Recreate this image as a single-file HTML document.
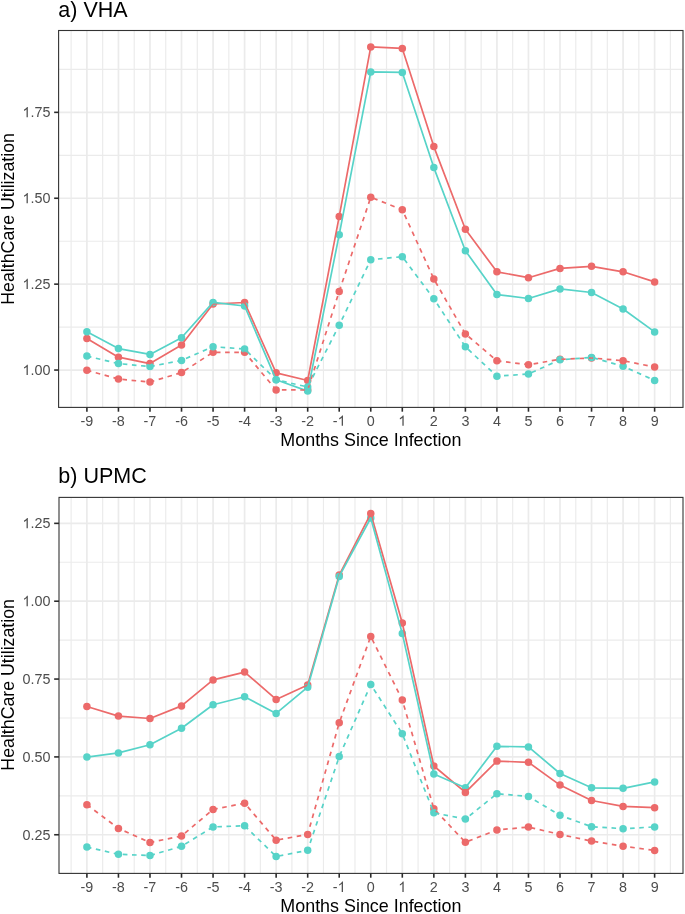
<!DOCTYPE html>
<html><head><meta charset="utf-8"><style>
html,body{margin:0;padding:0;background:#fff;}
body{width:685px;height:914px;overflow:hidden;}
svg{display:block;will-change:transform;}
text{font-family:"Liberation Sans",sans-serif;}
.ax{font-size:14.35px;fill:#4D4D4D;}
.at{font-size:17.9px;fill:#000;}
.tt{font-size:21.5px;fill:#000;}
</style></head><body>
<svg width="685" height="914" viewBox="0 0 685 914">
<rect width="685" height="914" fill="#fff"/>
<clipPath id="ca"><rect x="58.6" y="30.5" width="624.40" height="376.90"/></clipPath>
<g clip-path="url(#ca)">
<line x1="58.6" x2="683.0" y1="327.10" y2="327.10" stroke="#EBEBEB" stroke-width="1.15"/>
<line x1="58.6" x2="683.0" y1="241.20" y2="241.20" stroke="#EBEBEB" stroke-width="1.15"/>
<line x1="58.6" x2="683.0" y1="155.30" y2="155.30" stroke="#EBEBEB" stroke-width="1.15"/>
<line x1="58.6" x2="683.0" y1="69.40" y2="69.40" stroke="#EBEBEB" stroke-width="1.15"/>
<line x1="71.13" x2="71.13" y1="30.5" y2="407.4" stroke="#EBEBEB" stroke-width="1.15"/>
<line x1="102.67" x2="102.67" y1="30.5" y2="407.4" stroke="#EBEBEB" stroke-width="1.15"/>
<line x1="134.21" x2="134.21" y1="30.5" y2="407.4" stroke="#EBEBEB" stroke-width="1.15"/>
<line x1="165.75" x2="165.75" y1="30.5" y2="407.4" stroke="#EBEBEB" stroke-width="1.15"/>
<line x1="197.29" x2="197.29" y1="30.5" y2="407.4" stroke="#EBEBEB" stroke-width="1.15"/>
<line x1="228.83" x2="228.83" y1="30.5" y2="407.4" stroke="#EBEBEB" stroke-width="1.15"/>
<line x1="260.37" x2="260.37" y1="30.5" y2="407.4" stroke="#EBEBEB" stroke-width="1.15"/>
<line x1="291.91" x2="291.91" y1="30.5" y2="407.4" stroke="#EBEBEB" stroke-width="1.15"/>
<line x1="323.45" x2="323.45" y1="30.5" y2="407.4" stroke="#EBEBEB" stroke-width="1.15"/>
<line x1="354.99" x2="354.99" y1="30.5" y2="407.4" stroke="#EBEBEB" stroke-width="1.15"/>
<line x1="386.53" x2="386.53" y1="30.5" y2="407.4" stroke="#EBEBEB" stroke-width="1.15"/>
<line x1="418.07" x2="418.07" y1="30.5" y2="407.4" stroke="#EBEBEB" stroke-width="1.15"/>
<line x1="449.61" x2="449.61" y1="30.5" y2="407.4" stroke="#EBEBEB" stroke-width="1.15"/>
<line x1="481.15" x2="481.15" y1="30.5" y2="407.4" stroke="#EBEBEB" stroke-width="1.15"/>
<line x1="512.69" x2="512.69" y1="30.5" y2="407.4" stroke="#EBEBEB" stroke-width="1.15"/>
<line x1="544.23" x2="544.23" y1="30.5" y2="407.4" stroke="#EBEBEB" stroke-width="1.15"/>
<line x1="575.77" x2="575.77" y1="30.5" y2="407.4" stroke="#EBEBEB" stroke-width="1.15"/>
<line x1="607.31" x2="607.31" y1="30.5" y2="407.4" stroke="#EBEBEB" stroke-width="1.15"/>
<line x1="638.85" x2="638.85" y1="30.5" y2="407.4" stroke="#EBEBEB" stroke-width="1.15"/>
<line x1="670.39" x2="670.39" y1="30.5" y2="407.4" stroke="#EBEBEB" stroke-width="1.15"/>
<line x1="58.6" x2="683.0" y1="370.05" y2="370.05" stroke="#EBEBEB" stroke-width="1.7"/>
<line x1="58.6" x2="683.0" y1="284.15" y2="284.15" stroke="#EBEBEB" stroke-width="1.7"/>
<line x1="58.6" x2="683.0" y1="198.25" y2="198.25" stroke="#EBEBEB" stroke-width="1.7"/>
<line x1="58.6" x2="683.0" y1="112.35" y2="112.35" stroke="#EBEBEB" stroke-width="1.7"/>
<line x1="86.90" x2="86.90" y1="30.5" y2="407.4" stroke="#EBEBEB" stroke-width="1.7"/>
<line x1="118.44" x2="118.44" y1="30.5" y2="407.4" stroke="#EBEBEB" stroke-width="1.7"/>
<line x1="149.98" x2="149.98" y1="30.5" y2="407.4" stroke="#EBEBEB" stroke-width="1.7"/>
<line x1="181.52" x2="181.52" y1="30.5" y2="407.4" stroke="#EBEBEB" stroke-width="1.7"/>
<line x1="213.06" x2="213.06" y1="30.5" y2="407.4" stroke="#EBEBEB" stroke-width="1.7"/>
<line x1="244.60" x2="244.60" y1="30.5" y2="407.4" stroke="#EBEBEB" stroke-width="1.7"/>
<line x1="276.14" x2="276.14" y1="30.5" y2="407.4" stroke="#EBEBEB" stroke-width="1.7"/>
<line x1="307.68" x2="307.68" y1="30.5" y2="407.4" stroke="#EBEBEB" stroke-width="1.7"/>
<line x1="339.22" x2="339.22" y1="30.5" y2="407.4" stroke="#EBEBEB" stroke-width="1.7"/>
<line x1="370.76" x2="370.76" y1="30.5" y2="407.4" stroke="#EBEBEB" stroke-width="1.7"/>
<line x1="402.30" x2="402.30" y1="30.5" y2="407.4" stroke="#EBEBEB" stroke-width="1.7"/>
<line x1="433.84" x2="433.84" y1="30.5" y2="407.4" stroke="#EBEBEB" stroke-width="1.7"/>
<line x1="465.38" x2="465.38" y1="30.5" y2="407.4" stroke="#EBEBEB" stroke-width="1.7"/>
<line x1="496.92" x2="496.92" y1="30.5" y2="407.4" stroke="#EBEBEB" stroke-width="1.7"/>
<line x1="528.46" x2="528.46" y1="30.5" y2="407.4" stroke="#EBEBEB" stroke-width="1.7"/>
<line x1="560.00" x2="560.00" y1="30.5" y2="407.4" stroke="#EBEBEB" stroke-width="1.7"/>
<line x1="591.54" x2="591.54" y1="30.5" y2="407.4" stroke="#EBEBEB" stroke-width="1.7"/>
<line x1="623.08" x2="623.08" y1="30.5" y2="407.4" stroke="#EBEBEB" stroke-width="1.7"/>
<line x1="654.62" x2="654.62" y1="30.5" y2="407.4" stroke="#EBEBEB" stroke-width="1.7"/>
<circle cx="86.90" cy="338.40" r="3.75" fill="#EC6A6A"/>
<circle cx="118.44" cy="357.20" r="3.75" fill="#EC6A6A"/>
<circle cx="149.98" cy="363.60" r="3.75" fill="#EC6A6A"/>
<circle cx="181.52" cy="345.00" r="3.75" fill="#EC6A6A"/>
<circle cx="213.06" cy="304.00" r="3.75" fill="#EC6A6A"/>
<circle cx="244.60" cy="302.50" r="3.75" fill="#EC6A6A"/>
<circle cx="276.14" cy="372.80" r="3.75" fill="#EC6A6A"/>
<circle cx="307.68" cy="380.50" r="3.75" fill="#EC6A6A"/>
<circle cx="339.22" cy="216.40" r="3.75" fill="#EC6A6A"/>
<circle cx="370.76" cy="46.90" r="3.75" fill="#EC6A6A"/>
<circle cx="402.30" cy="48.40" r="3.75" fill="#EC6A6A"/>
<circle cx="433.84" cy="146.60" r="3.75" fill="#EC6A6A"/>
<circle cx="465.38" cy="229.30" r="3.75" fill="#EC6A6A"/>
<circle cx="496.92" cy="271.80" r="3.75" fill="#EC6A6A"/>
<circle cx="528.46" cy="277.70" r="3.75" fill="#EC6A6A"/>
<circle cx="560.00" cy="268.40" r="3.75" fill="#EC6A6A"/>
<circle cx="591.54" cy="266.30" r="3.75" fill="#EC6A6A"/>
<circle cx="623.08" cy="271.80" r="3.75" fill="#EC6A6A"/>
<circle cx="654.62" cy="281.90" r="3.75" fill="#EC6A6A"/>
<circle cx="86.90" cy="370.20" r="3.75" fill="#EC6A6A"/>
<circle cx="118.44" cy="379.10" r="3.75" fill="#EC6A6A"/>
<circle cx="149.98" cy="382.00" r="3.75" fill="#EC6A6A"/>
<circle cx="181.52" cy="372.60" r="3.75" fill="#EC6A6A"/>
<circle cx="213.06" cy="352.30" r="3.75" fill="#EC6A6A"/>
<circle cx="244.60" cy="352.30" r="3.75" fill="#EC6A6A"/>
<circle cx="276.14" cy="389.90" r="3.75" fill="#EC6A6A"/>
<circle cx="307.68" cy="390.00" r="3.75" fill="#EC6A6A"/>
<circle cx="339.22" cy="291.40" r="3.75" fill="#EC6A6A"/>
<circle cx="370.76" cy="197.20" r="3.75" fill="#EC6A6A"/>
<circle cx="402.30" cy="209.80" r="3.75" fill="#EC6A6A"/>
<circle cx="433.84" cy="279.00" r="3.75" fill="#EC6A6A"/>
<circle cx="465.38" cy="333.90" r="3.75" fill="#EC6A6A"/>
<circle cx="496.92" cy="360.80" r="3.75" fill="#EC6A6A"/>
<circle cx="528.46" cy="364.70" r="3.75" fill="#EC6A6A"/>
<circle cx="560.00" cy="359.30" r="3.75" fill="#EC6A6A"/>
<circle cx="591.54" cy="358.00" r="3.75" fill="#EC6A6A"/>
<circle cx="654.62" cy="367.00" r="3.75" fill="#EC6A6A"/>
<circle cx="86.90" cy="331.80" r="3.75" fill="#57D3C8"/>
<circle cx="118.44" cy="348.60" r="3.75" fill="#57D3C8"/>
<circle cx="149.98" cy="354.40" r="3.75" fill="#57D3C8"/>
<circle cx="181.52" cy="337.80" r="3.75" fill="#57D3C8"/>
<circle cx="213.06" cy="302.40" r="3.75" fill="#57D3C8"/>
<circle cx="244.60" cy="306.00" r="3.75" fill="#57D3C8"/>
<circle cx="276.14" cy="379.80" r="3.75" fill="#57D3C8"/>
<circle cx="307.68" cy="391.10" r="3.75" fill="#57D3C8"/>
<circle cx="339.22" cy="234.70" r="3.75" fill="#57D3C8"/>
<circle cx="370.76" cy="71.90" r="3.75" fill="#57D3C8"/>
<circle cx="402.30" cy="72.40" r="3.75" fill="#57D3C8"/>
<circle cx="433.84" cy="167.60" r="3.75" fill="#57D3C8"/>
<circle cx="465.38" cy="250.70" r="3.75" fill="#57D3C8"/>
<circle cx="496.92" cy="294.60" r="3.75" fill="#57D3C8"/>
<circle cx="528.46" cy="298.50" r="3.75" fill="#57D3C8"/>
<circle cx="560.00" cy="288.90" r="3.75" fill="#57D3C8"/>
<circle cx="591.54" cy="292.50" r="3.75" fill="#57D3C8"/>
<circle cx="623.08" cy="309.00" r="3.75" fill="#57D3C8"/>
<circle cx="654.62" cy="331.90" r="3.75" fill="#57D3C8"/>
<circle cx="86.90" cy="356.10" r="3.75" fill="#57D3C8"/>
<circle cx="118.44" cy="363.60" r="3.75" fill="#57D3C8"/>
<circle cx="149.98" cy="366.60" r="3.75" fill="#57D3C8"/>
<circle cx="181.52" cy="360.40" r="3.75" fill="#57D3C8"/>
<circle cx="213.06" cy="346.70" r="3.75" fill="#57D3C8"/>
<circle cx="244.60" cy="349.00" r="3.75" fill="#57D3C8"/>
<circle cx="276.14" cy="379.80" r="3.75" fill="#57D3C8"/>
<circle cx="307.68" cy="387.00" r="3.75" fill="#57D3C8"/>
<circle cx="339.22" cy="325.20" r="3.75" fill="#57D3C8"/>
<circle cx="370.76" cy="259.70" r="3.75" fill="#57D3C8"/>
<circle cx="402.30" cy="256.70" r="3.75" fill="#57D3C8"/>
<circle cx="433.84" cy="298.80" r="3.75" fill="#57D3C8"/>
<circle cx="465.38" cy="346.80" r="3.75" fill="#57D3C8"/>
<circle cx="496.92" cy="376.20" r="3.75" fill="#57D3C8"/>
<circle cx="528.46" cy="374.00" r="3.75" fill="#57D3C8"/>
<circle cx="560.00" cy="359.80" r="3.75" fill="#57D3C8"/>
<circle cx="591.54" cy="357.40" r="3.75" fill="#57D3C8"/>
<circle cx="623.08" cy="366.30" r="3.75" fill="#57D3C8"/>
<circle cx="654.62" cy="380.40" r="3.75" fill="#57D3C8"/>
<circle cx="623.08" cy="360.70" r="3.75" fill="#EC6A6A"/>
<polyline points="86.90,338.40 118.44,357.20 149.98,363.60 181.52,345.00 213.06,304.00 244.60,302.50 276.14,372.80 307.68,380.50 339.22,216.40 370.76,46.90 402.30,48.40 433.84,146.60 465.38,229.30 496.92,271.80 528.46,277.70 560.00,268.40 591.54,266.30 623.08,271.80 654.62,281.90" fill="none" stroke="#EC6A6A" stroke-width="1.7" stroke-linejoin="round"/>
<polyline points="86.90,331.80 118.44,348.60 149.98,354.40 181.52,337.80 213.06,302.40 244.60,306.00 276.14,379.80 307.68,391.10 339.22,234.70 370.76,71.90 402.30,72.40 433.84,167.60 465.38,250.70 496.92,294.60 528.46,298.50 560.00,288.90 591.54,292.50 623.08,309.00 654.62,331.90" fill="none" stroke="#57D3C8" stroke-width="1.7" stroke-linejoin="round"/>
<g fill="none" stroke="#EC6A6A" stroke-width="1.7" stroke-dasharray="4.6 4.59"><line x1="86.90" y1="370.20" x2="118.44" y2="379.10" stroke-dashoffset="0.00"/><line x1="118.44" y1="379.10" x2="149.98" y2="382.00" stroke-dashoffset="5.20"/><line x1="149.98" y1="382.00" x2="181.52" y2="372.60" stroke-dashoffset="0.11"/><line x1="181.52" y1="372.60" x2="213.06" y2="352.30" stroke-dashoffset="5.46"/><line x1="213.06" y1="352.30" x2="244.60" y2="352.30" stroke-dashoffset="6.35"/><line x1="244.60" y1="352.30" x2="276.14" y2="389.90" stroke-dashoffset="1.29"/><line x1="276.14" y1="389.90" x2="307.68" y2="390.00" stroke-dashoffset="3.46"/><line x1="307.68" y1="390.00" x2="339.22" y2="291.40" stroke-dashoffset="6.93"/><line x1="339.22" y1="291.40" x2="370.76" y2="197.20" stroke-dashoffset="8.81"/><line x1="370.76" y1="197.20" x2="402.30" y2="209.80" stroke-dashoffset="6.51"/><line x1="402.30" y1="209.80" x2="433.84" y2="279.00" stroke-dashoffset="3.58"/><line x1="433.84" y1="279.00" x2="465.38" y2="333.90" stroke-dashoffset="5.98"/><line x1="465.38" y1="333.90" x2="496.92" y2="360.80" stroke-dashoffset="4.83"/><line x1="496.92" y1="360.80" x2="528.46" y2="364.70" stroke-dashoffset="0.03"/><line x1="528.46" y1="364.70" x2="560.00" y2="359.30" stroke-dashoffset="3.94"/><line x1="560.00" y1="359.30" x2="591.54" y2="358.00" stroke-dashoffset="8.07"/><line x1="591.54" y1="358.00" x2="623.08" y2="360.70" stroke-dashoffset="3.08"/><line x1="623.08" y1="360.70" x2="654.62" y2="367.00" stroke-dashoffset="7.06"/></g>
<g fill="none" stroke="#57D3C8" stroke-width="1.7" stroke-dasharray="4.6 4.59"><line x1="86.90" y1="356.10" x2="118.44" y2="363.60" stroke-dashoffset="0.00"/><line x1="118.44" y1="363.60" x2="149.98" y2="366.60" stroke-dashoffset="4.85"/><line x1="149.98" y1="366.60" x2="181.52" y2="360.40" stroke-dashoffset="8.96"/><line x1="181.52" y1="360.40" x2="213.06" y2="346.70" stroke-dashoffset="4.35"/><line x1="213.06" y1="346.70" x2="244.60" y2="349.00" stroke-dashoffset="1.62"/><line x1="244.60" y1="349.00" x2="276.14" y2="379.80" stroke-dashoffset="5.33"/><line x1="276.14" y1="379.80" x2="307.68" y2="387.00" stroke-dashoffset="3.06"/><line x1="307.68" y1="387.00" x2="339.22" y2="325.20" stroke-dashoffset="7.44"/><line x1="339.22" y1="325.20" x2="370.76" y2="259.70" stroke-dashoffset="3.05"/><line x1="370.76" y1="259.70" x2="402.30" y2="256.70" stroke-dashoffset="1.98"/><line x1="402.30" y1="256.70" x2="433.84" y2="298.80" stroke-dashoffset="5.90"/><line x1="433.84" y1="298.80" x2="465.38" y2="346.80" stroke-dashoffset="3.16"/><line x1="465.38" y1="346.80" x2="496.92" y2="376.20" stroke-dashoffset="5.25"/><line x1="496.92" y1="376.20" x2="528.46" y2="374.00" stroke-dashoffset="2.06"/><line x1="528.46" y1="374.00" x2="560.00" y2="359.80" stroke-dashoffset="5.74"/><line x1="560.00" y1="359.80" x2="591.54" y2="357.40" stroke-dashoffset="3.20"/><line x1="591.54" y1="357.40" x2="623.08" y2="366.30" stroke-dashoffset="7.21"/><line x1="623.08" y1="366.30" x2="654.62" y2="380.40" stroke-dashoffset="3.17"/></g>
</g>
<rect x="58.6" y="30.5" width="624.40" height="376.90" fill="none" stroke="#333333" stroke-width="1.1"/>
<line x1="54.15" x2="58.6" y1="370.05" y2="370.05" stroke="#2B2B2B" stroke-width="1.6"/>
<path d="M763 0L583 0L583 1147C540 1106 483 1064 413 1023C343 982 280 951 223 930L223 1104C324 1151 412 1209 487 1276C562 1343 615 1409 646 1472L763 1472Z" transform="translate(22.47 375.00) scale(0.007007 -0.007007)" fill="#4D4D4D"/><text x="30.45" y="375.00" class="ax">.00</text>
<line x1="54.15" x2="58.6" y1="284.15" y2="284.15" stroke="#2B2B2B" stroke-width="1.6"/>
<path d="M763 0L583 0L583 1147C540 1106 483 1064 413 1023C343 982 280 951 223 930L223 1104C324 1151 412 1209 487 1276C562 1343 615 1409 646 1472L763 1472Z" transform="translate(22.47 289.10) scale(0.007007 -0.007007)" fill="#4D4D4D"/><text x="30.45" y="289.10" class="ax">.25</text>
<line x1="54.15" x2="58.6" y1="198.25" y2="198.25" stroke="#2B2B2B" stroke-width="1.6"/>
<path d="M763 0L583 0L583 1147C540 1106 483 1064 413 1023C343 982 280 951 223 930L223 1104C324 1151 412 1209 487 1276C562 1343 615 1409 646 1472L763 1472Z" transform="translate(22.47 203.20) scale(0.007007 -0.007007)" fill="#4D4D4D"/><text x="30.45" y="203.20" class="ax">.50</text>
<line x1="54.15" x2="58.6" y1="112.35" y2="112.35" stroke="#2B2B2B" stroke-width="1.6"/>
<path d="M763 0L583 0L583 1147C540 1106 483 1064 413 1023C343 982 280 951 223 930L223 1104C324 1151 412 1209 487 1276C562 1343 615 1409 646 1472L763 1472Z" transform="translate(22.47 117.30) scale(0.007007 -0.007007)" fill="#4D4D4D"/><text x="30.45" y="117.30" class="ax">.75</text>
<line x1="86.90" x2="86.90" y1="407.4" y2="411.70" stroke="#2B2B2B" stroke-width="1.6"/>
<text x="80.52" y="425.80" class="ax">-9</text>
<line x1="118.44" x2="118.44" y1="407.4" y2="411.70" stroke="#2B2B2B" stroke-width="1.6"/>
<text x="112.06" y="425.80" class="ax">-8</text>
<line x1="149.98" x2="149.98" y1="407.4" y2="411.70" stroke="#2B2B2B" stroke-width="1.6"/>
<text x="143.60" y="425.80" class="ax">-7</text>
<line x1="181.52" x2="181.52" y1="407.4" y2="411.70" stroke="#2B2B2B" stroke-width="1.6"/>
<text x="175.14" y="425.80" class="ax">-6</text>
<line x1="213.06" x2="213.06" y1="407.4" y2="411.70" stroke="#2B2B2B" stroke-width="1.6"/>
<text x="206.68" y="425.80" class="ax">-5</text>
<line x1="244.60" x2="244.60" y1="407.4" y2="411.70" stroke="#2B2B2B" stroke-width="1.6"/>
<text x="238.22" y="425.80" class="ax">-4</text>
<line x1="276.14" x2="276.14" y1="407.4" y2="411.70" stroke="#2B2B2B" stroke-width="1.6"/>
<text x="269.76" y="425.80" class="ax">-3</text>
<line x1="307.68" x2="307.68" y1="407.4" y2="411.70" stroke="#2B2B2B" stroke-width="1.6"/>
<text x="301.30" y="425.80" class="ax">-2</text>
<line x1="339.22" x2="339.22" y1="407.4" y2="411.70" stroke="#2B2B2B" stroke-width="1.6"/>
<text x="332.84" y="425.80" class="ax">-</text><path d="M763 0L583 0L583 1147C540 1106 483 1064 413 1023C343 982 280 951 223 930L223 1104C324 1151 412 1209 487 1276C562 1343 615 1409 646 1472L763 1472Z" transform="translate(337.62 425.80) scale(0.007007 -0.007007)" fill="#4D4D4D"/>
<line x1="370.76" x2="370.76" y1="407.4" y2="411.70" stroke="#2B2B2B" stroke-width="1.6"/>
<text x="366.77" y="425.80" class="ax">0</text>
<line x1="402.30" x2="402.30" y1="407.4" y2="411.70" stroke="#2B2B2B" stroke-width="1.6"/>
<path d="M763 0L583 0L583 1147C540 1106 483 1064 413 1023C343 982 280 951 223 930L223 1104C324 1151 412 1209 487 1276C562 1343 615 1409 646 1472L763 1472Z" transform="translate(398.31 425.80) scale(0.007007 -0.007007)" fill="#4D4D4D"/>
<line x1="433.84" x2="433.84" y1="407.4" y2="411.70" stroke="#2B2B2B" stroke-width="1.6"/>
<text x="429.85" y="425.80" class="ax">2</text>
<line x1="465.38" x2="465.38" y1="407.4" y2="411.70" stroke="#2B2B2B" stroke-width="1.6"/>
<text x="461.39" y="425.80" class="ax">3</text>
<line x1="496.92" x2="496.92" y1="407.4" y2="411.70" stroke="#2B2B2B" stroke-width="1.6"/>
<text x="492.93" y="425.80" class="ax">4</text>
<line x1="528.46" x2="528.46" y1="407.4" y2="411.70" stroke="#2B2B2B" stroke-width="1.6"/>
<text x="524.47" y="425.80" class="ax">5</text>
<line x1="560.00" x2="560.00" y1="407.4" y2="411.70" stroke="#2B2B2B" stroke-width="1.6"/>
<text x="556.01" y="425.80" class="ax">6</text>
<line x1="591.54" x2="591.54" y1="407.4" y2="411.70" stroke="#2B2B2B" stroke-width="1.6"/>
<text x="587.55" y="425.80" class="ax">7</text>
<line x1="623.08" x2="623.08" y1="407.4" y2="411.70" stroke="#2B2B2B" stroke-width="1.6"/>
<text x="619.09" y="425.80" class="ax">8</text>
<line x1="654.62" x2="654.62" y1="407.4" y2="411.70" stroke="#2B2B2B" stroke-width="1.6"/>
<text x="650.63" y="425.80" class="ax">9</text>
<text x="370.85" y="446.30" text-anchor="middle" class="at">Months Since Infection</text>
<text transform="translate(13.9 218.90) rotate(-90)" x="0" y="0" text-anchor="middle" class="at" style="font-size:17.75px">HealthCare Utilization</text>
<text x="58.3" y="16.70" class="tt">a) VHA</text>
<clipPath id="cb"><rect x="59.0" y="497.4" width="624.00" height="376.00"/></clipPath>
<g clip-path="url(#cb)">
<line x1="59.0" x2="683.0" y1="795.84" y2="795.84" stroke="#EBEBEB" stroke-width="1.15"/>
<line x1="59.0" x2="683.0" y1="717.99" y2="717.99" stroke="#EBEBEB" stroke-width="1.15"/>
<line x1="59.0" x2="683.0" y1="640.13" y2="640.13" stroke="#EBEBEB" stroke-width="1.15"/>
<line x1="59.0" x2="683.0" y1="562.29" y2="562.29" stroke="#EBEBEB" stroke-width="1.15"/>
<line x1="71.13" x2="71.13" y1="497.4" y2="873.4" stroke="#EBEBEB" stroke-width="1.15"/>
<line x1="102.67" x2="102.67" y1="497.4" y2="873.4" stroke="#EBEBEB" stroke-width="1.15"/>
<line x1="134.21" x2="134.21" y1="497.4" y2="873.4" stroke="#EBEBEB" stroke-width="1.15"/>
<line x1="165.75" x2="165.75" y1="497.4" y2="873.4" stroke="#EBEBEB" stroke-width="1.15"/>
<line x1="197.29" x2="197.29" y1="497.4" y2="873.4" stroke="#EBEBEB" stroke-width="1.15"/>
<line x1="228.83" x2="228.83" y1="497.4" y2="873.4" stroke="#EBEBEB" stroke-width="1.15"/>
<line x1="260.37" x2="260.37" y1="497.4" y2="873.4" stroke="#EBEBEB" stroke-width="1.15"/>
<line x1="291.91" x2="291.91" y1="497.4" y2="873.4" stroke="#EBEBEB" stroke-width="1.15"/>
<line x1="323.45" x2="323.45" y1="497.4" y2="873.4" stroke="#EBEBEB" stroke-width="1.15"/>
<line x1="354.99" x2="354.99" y1="497.4" y2="873.4" stroke="#EBEBEB" stroke-width="1.15"/>
<line x1="386.53" x2="386.53" y1="497.4" y2="873.4" stroke="#EBEBEB" stroke-width="1.15"/>
<line x1="418.07" x2="418.07" y1="497.4" y2="873.4" stroke="#EBEBEB" stroke-width="1.15"/>
<line x1="449.61" x2="449.61" y1="497.4" y2="873.4" stroke="#EBEBEB" stroke-width="1.15"/>
<line x1="481.15" x2="481.15" y1="497.4" y2="873.4" stroke="#EBEBEB" stroke-width="1.15"/>
<line x1="512.69" x2="512.69" y1="497.4" y2="873.4" stroke="#EBEBEB" stroke-width="1.15"/>
<line x1="544.23" x2="544.23" y1="497.4" y2="873.4" stroke="#EBEBEB" stroke-width="1.15"/>
<line x1="575.77" x2="575.77" y1="497.4" y2="873.4" stroke="#EBEBEB" stroke-width="1.15"/>
<line x1="607.31" x2="607.31" y1="497.4" y2="873.4" stroke="#EBEBEB" stroke-width="1.15"/>
<line x1="638.85" x2="638.85" y1="497.4" y2="873.4" stroke="#EBEBEB" stroke-width="1.15"/>
<line x1="670.39" x2="670.39" y1="497.4" y2="873.4" stroke="#EBEBEB" stroke-width="1.15"/>
<line x1="59.0" x2="683.0" y1="834.76" y2="834.76" stroke="#EBEBEB" stroke-width="1.7"/>
<line x1="59.0" x2="683.0" y1="756.91" y2="756.91" stroke="#EBEBEB" stroke-width="1.7"/>
<line x1="59.0" x2="683.0" y1="679.06" y2="679.06" stroke="#EBEBEB" stroke-width="1.7"/>
<line x1="59.0" x2="683.0" y1="601.21" y2="601.21" stroke="#EBEBEB" stroke-width="1.7"/>
<line x1="59.0" x2="683.0" y1="523.36" y2="523.36" stroke="#EBEBEB" stroke-width="1.7"/>
<line x1="86.90" x2="86.90" y1="497.4" y2="873.4" stroke="#EBEBEB" stroke-width="1.7"/>
<line x1="118.44" x2="118.44" y1="497.4" y2="873.4" stroke="#EBEBEB" stroke-width="1.7"/>
<line x1="149.98" x2="149.98" y1="497.4" y2="873.4" stroke="#EBEBEB" stroke-width="1.7"/>
<line x1="181.52" x2="181.52" y1="497.4" y2="873.4" stroke="#EBEBEB" stroke-width="1.7"/>
<line x1="213.06" x2="213.06" y1="497.4" y2="873.4" stroke="#EBEBEB" stroke-width="1.7"/>
<line x1="244.60" x2="244.60" y1="497.4" y2="873.4" stroke="#EBEBEB" stroke-width="1.7"/>
<line x1="276.14" x2="276.14" y1="497.4" y2="873.4" stroke="#EBEBEB" stroke-width="1.7"/>
<line x1="307.68" x2="307.68" y1="497.4" y2="873.4" stroke="#EBEBEB" stroke-width="1.7"/>
<line x1="339.22" x2="339.22" y1="497.4" y2="873.4" stroke="#EBEBEB" stroke-width="1.7"/>
<line x1="370.76" x2="370.76" y1="497.4" y2="873.4" stroke="#EBEBEB" stroke-width="1.7"/>
<line x1="402.30" x2="402.30" y1="497.4" y2="873.4" stroke="#EBEBEB" stroke-width="1.7"/>
<line x1="433.84" x2="433.84" y1="497.4" y2="873.4" stroke="#EBEBEB" stroke-width="1.7"/>
<line x1="465.38" x2="465.38" y1="497.4" y2="873.4" stroke="#EBEBEB" stroke-width="1.7"/>
<line x1="496.92" x2="496.92" y1="497.4" y2="873.4" stroke="#EBEBEB" stroke-width="1.7"/>
<line x1="528.46" x2="528.46" y1="497.4" y2="873.4" stroke="#EBEBEB" stroke-width="1.7"/>
<line x1="560.00" x2="560.00" y1="497.4" y2="873.4" stroke="#EBEBEB" stroke-width="1.7"/>
<line x1="591.54" x2="591.54" y1="497.4" y2="873.4" stroke="#EBEBEB" stroke-width="1.7"/>
<line x1="623.08" x2="623.08" y1="497.4" y2="873.4" stroke="#EBEBEB" stroke-width="1.7"/>
<line x1="654.62" x2="654.62" y1="497.4" y2="873.4" stroke="#EBEBEB" stroke-width="1.7"/>
<circle cx="86.90" cy="706.50" r="3.75" fill="#EC6A6A"/>
<circle cx="118.44" cy="716.10" r="3.75" fill="#EC6A6A"/>
<circle cx="149.98" cy="718.50" r="3.75" fill="#EC6A6A"/>
<circle cx="181.52" cy="705.90" r="3.75" fill="#EC6A6A"/>
<circle cx="213.06" cy="679.90" r="3.75" fill="#EC6A6A"/>
<circle cx="244.60" cy="672.10" r="3.75" fill="#EC6A6A"/>
<circle cx="276.14" cy="699.40" r="3.75" fill="#EC6A6A"/>
<circle cx="307.68" cy="685.00" r="3.75" fill="#EC6A6A"/>
<circle cx="339.22" cy="575.10" r="3.75" fill="#EC6A6A"/>
<circle cx="402.30" cy="622.90" r="3.75" fill="#EC6A6A"/>
<circle cx="433.84" cy="766.00" r="3.75" fill="#EC6A6A"/>
<circle cx="496.92" cy="761.10" r="3.75" fill="#EC6A6A"/>
<circle cx="528.46" cy="762.30" r="3.75" fill="#EC6A6A"/>
<circle cx="560.00" cy="785.10" r="3.75" fill="#EC6A6A"/>
<circle cx="591.54" cy="800.50" r="3.75" fill="#EC6A6A"/>
<circle cx="623.08" cy="806.40" r="3.75" fill="#EC6A6A"/>
<circle cx="654.62" cy="807.70" r="3.75" fill="#EC6A6A"/>
<circle cx="86.90" cy="804.70" r="3.75" fill="#EC6A6A"/>
<circle cx="118.44" cy="828.40" r="3.75" fill="#EC6A6A"/>
<circle cx="149.98" cy="842.50" r="3.75" fill="#EC6A6A"/>
<circle cx="181.52" cy="836.00" r="3.75" fill="#EC6A6A"/>
<circle cx="213.06" cy="809.40" r="3.75" fill="#EC6A6A"/>
<circle cx="244.60" cy="803.20" r="3.75" fill="#EC6A6A"/>
<circle cx="276.14" cy="840.20" r="3.75" fill="#EC6A6A"/>
<circle cx="307.68" cy="834.40" r="3.75" fill="#EC6A6A"/>
<circle cx="339.22" cy="722.80" r="3.75" fill="#EC6A6A"/>
<circle cx="370.76" cy="636.40" r="3.75" fill="#EC6A6A"/>
<circle cx="402.30" cy="700.00" r="3.75" fill="#EC6A6A"/>
<circle cx="433.84" cy="808.70" r="3.75" fill="#EC6A6A"/>
<circle cx="465.38" cy="842.30" r="3.75" fill="#EC6A6A"/>
<circle cx="496.92" cy="829.90" r="3.75" fill="#EC6A6A"/>
<circle cx="528.46" cy="827.10" r="3.75" fill="#EC6A6A"/>
<circle cx="560.00" cy="834.40" r="3.75" fill="#EC6A6A"/>
<circle cx="591.54" cy="841.10" r="3.75" fill="#EC6A6A"/>
<circle cx="623.08" cy="846.20" r="3.75" fill="#EC6A6A"/>
<circle cx="654.62" cy="850.40" r="3.75" fill="#EC6A6A"/>
<circle cx="86.90" cy="757.10" r="3.75" fill="#57D3C8"/>
<circle cx="118.44" cy="752.90" r="3.75" fill="#57D3C8"/>
<circle cx="149.98" cy="744.70" r="3.75" fill="#57D3C8"/>
<circle cx="181.52" cy="728.30" r="3.75" fill="#57D3C8"/>
<circle cx="213.06" cy="704.80" r="3.75" fill="#57D3C8"/>
<circle cx="244.60" cy="696.80" r="3.75" fill="#57D3C8"/>
<circle cx="276.14" cy="713.40" r="3.75" fill="#57D3C8"/>
<circle cx="307.68" cy="687.20" r="3.75" fill="#57D3C8"/>
<circle cx="339.22" cy="576.40" r="3.75" fill="#57D3C8"/>
<circle cx="370.76" cy="518.00" r="3.75" fill="#57D3C8"/>
<circle cx="402.30" cy="633.60" r="3.75" fill="#57D3C8"/>
<circle cx="433.84" cy="774.00" r="3.75" fill="#57D3C8"/>
<circle cx="465.38" cy="787.70" r="3.75" fill="#57D3C8"/>
<circle cx="496.92" cy="746.30" r="3.75" fill="#57D3C8"/>
<circle cx="528.46" cy="746.90" r="3.75" fill="#57D3C8"/>
<circle cx="560.00" cy="773.50" r="3.75" fill="#57D3C8"/>
<circle cx="591.54" cy="787.80" r="3.75" fill="#57D3C8"/>
<circle cx="623.08" cy="788.30" r="3.75" fill="#57D3C8"/>
<circle cx="654.62" cy="781.90" r="3.75" fill="#57D3C8"/>
<circle cx="86.90" cy="847.10" r="3.75" fill="#57D3C8"/>
<circle cx="118.44" cy="854.30" r="3.75" fill="#57D3C8"/>
<circle cx="149.98" cy="855.50" r="3.75" fill="#57D3C8"/>
<circle cx="181.52" cy="846.30" r="3.75" fill="#57D3C8"/>
<circle cx="213.06" cy="826.90" r="3.75" fill="#57D3C8"/>
<circle cx="244.60" cy="825.80" r="3.75" fill="#57D3C8"/>
<circle cx="276.14" cy="856.50" r="3.75" fill="#57D3C8"/>
<circle cx="307.68" cy="850.30" r="3.75" fill="#57D3C8"/>
<circle cx="339.22" cy="756.60" r="3.75" fill="#57D3C8"/>
<circle cx="370.76" cy="684.50" r="3.75" fill="#57D3C8"/>
<circle cx="402.30" cy="733.80" r="3.75" fill="#57D3C8"/>
<circle cx="433.84" cy="812.80" r="3.75" fill="#57D3C8"/>
<circle cx="465.38" cy="819.10" r="3.75" fill="#57D3C8"/>
<circle cx="496.92" cy="793.70" r="3.75" fill="#57D3C8"/>
<circle cx="528.46" cy="796.50" r="3.75" fill="#57D3C8"/>
<circle cx="560.00" cy="815.30" r="3.75" fill="#57D3C8"/>
<circle cx="591.54" cy="826.70" r="3.75" fill="#57D3C8"/>
<circle cx="623.08" cy="828.70" r="3.75" fill="#57D3C8"/>
<circle cx="654.62" cy="826.90" r="3.75" fill="#57D3C8"/>
<circle cx="370.76" cy="513.60" r="3.75" fill="#EC6A6A"/>
<circle cx="465.38" cy="792.40" r="3.75" fill="#EC6A6A"/>
<polyline points="86.90,706.50 118.44,716.10 149.98,718.50 181.52,705.90 213.06,679.90 244.60,672.10 276.14,699.40 307.68,685.00 339.22,575.10 370.76,513.60 402.30,622.90 433.84,766.00 465.38,792.40 496.92,761.10 528.46,762.30 560.00,785.10 591.54,800.50 623.08,806.40 654.62,807.70" fill="none" stroke="#EC6A6A" stroke-width="1.7" stroke-linejoin="round"/>
<polyline points="86.90,757.10 118.44,752.90 149.98,744.70 181.52,728.30 213.06,704.80 244.60,696.80 276.14,713.40 307.68,687.20 339.22,576.40 370.76,518.00 402.30,633.60 433.84,774.00 465.38,787.70 496.92,746.30 528.46,746.90 560.00,773.50 591.54,787.80 623.08,788.30 654.62,781.90" fill="none" stroke="#57D3C8" stroke-width="1.7" stroke-linejoin="round"/>
<g fill="none" stroke="#EC6A6A" stroke-width="1.7" stroke-dasharray="4.6 4.59"><line x1="86.90" y1="804.70" x2="118.44" y2="828.40" stroke-dashoffset="0.00"/><line x1="118.44" y1="828.40" x2="149.98" y2="842.50" stroke-dashoffset="2.55"/><line x1="149.98" y1="842.50" x2="181.52" y2="836.00" stroke-dashoffset="0.20"/><line x1="181.52" y1="836.00" x2="213.06" y2="809.40" stroke-dashoffset="4.69"/><line x1="213.06" y1="809.40" x2="244.60" y2="803.20" stroke-dashoffset="9.05"/><line x1="244.60" y1="803.20" x2="276.14" y2="840.20" stroke-dashoffset="4.30"/><line x1="276.14" y1="840.20" x2="307.68" y2="834.40" stroke-dashoffset="6.66"/><line x1="307.68" y1="834.40" x2="339.22" y2="722.80" stroke-dashoffset="1.34"/><line x1="339.22" y1="722.80" x2="370.76" y2="636.40" stroke-dashoffset="6.40"/><line x1="370.76" y1="636.40" x2="402.30" y2="700.00" stroke-dashoffset="6.12"/><line x1="402.30" y1="700.00" x2="433.84" y2="808.70" stroke-dashoffset="3.59"/><line x1="433.84" y1="808.70" x2="465.38" y2="842.30" stroke-dashoffset="6.22"/><line x1="465.38" y1="842.30" x2="496.92" y2="829.90" stroke-dashoffset="6.08"/><line x1="496.92" y1="829.90" x2="528.46" y2="827.10" stroke-dashoffset="2.93"/><line x1="528.46" y1="827.10" x2="560.00" y2="834.40" stroke-dashoffset="6.92"/><line x1="560.00" y1="834.40" x2="591.54" y2="841.10" stroke-dashoffset="2.44"/><line x1="591.54" y1="841.10" x2="623.08" y2="846.20" stroke-dashoffset="7.01"/><line x1="623.08" y1="846.20" x2="654.62" y2="850.40" stroke-dashoffset="2.00"/></g>
<g fill="none" stroke="#57D3C8" stroke-width="1.7" stroke-dasharray="4.6 4.59"><line x1="86.90" y1="847.10" x2="118.44" y2="854.30" stroke-dashoffset="0.00"/><line x1="118.44" y1="854.30" x2="149.98" y2="855.50" stroke-dashoffset="4.78"/><line x1="149.98" y1="855.50" x2="181.52" y2="846.30" stroke-dashoffset="8.76"/><line x1="181.52" y1="846.30" x2="213.06" y2="826.90" stroke-dashoffset="4.83"/><line x1="213.06" y1="826.90" x2="244.60" y2="825.80" stroke-dashoffset="4.94"/><line x1="244.60" y1="825.80" x2="276.14" y2="856.50" stroke-dashoffset="8.94"/><line x1="276.14" y1="856.50" x2="307.68" y2="850.30" stroke-dashoffset="6.52"/><line x1="307.68" y1="850.30" x2="339.22" y2="756.60" stroke-dashoffset="1.43"/><line x1="339.22" y1="756.60" x2="370.76" y2="684.50" stroke-dashoffset="7.93"/><line x1="370.76" y1="684.50" x2="402.30" y2="733.80" stroke-dashoffset="3.45"/><line x1="402.30" y1="733.80" x2="433.84" y2="812.80" stroke-dashoffset="6.51"/><line x1="433.84" y1="812.80" x2="465.38" y2="819.10" stroke-dashoffset="8.54"/><line x1="465.38" y1="819.10" x2="496.92" y2="793.70" stroke-dashoffset="3.62"/><line x1="496.92" y1="793.70" x2="528.46" y2="796.50" stroke-dashoffset="7.03"/><line x1="528.46" y1="796.50" x2="560.00" y2="815.30" stroke-dashoffset="1.83"/><line x1="560.00" y1="815.30" x2="591.54" y2="826.70" stroke-dashoffset="1.69"/><line x1="591.54" y1="826.70" x2="623.08" y2="828.70" stroke-dashoffset="7.56"/><line x1="623.08" y1="828.70" x2="654.62" y2="826.90" stroke-dashoffset="2.20"/></g>
</g>
<rect x="59.0" y="497.4" width="624.00" height="376.00" fill="none" stroke="#333333" stroke-width="1.1"/>
<line x1="54.15" x2="59.0" y1="834.76" y2="834.76" stroke="#2B2B2B" stroke-width="1.6"/>
<text x="22.47" y="839.71" class="ax">0.25</text>
<line x1="54.15" x2="59.0" y1="756.91" y2="756.91" stroke="#2B2B2B" stroke-width="1.6"/>
<text x="22.47" y="761.86" class="ax">0.50</text>
<line x1="54.15" x2="59.0" y1="679.06" y2="679.06" stroke="#2B2B2B" stroke-width="1.6"/>
<text x="22.47" y="684.01" class="ax">0.75</text>
<line x1="54.15" x2="59.0" y1="601.21" y2="601.21" stroke="#2B2B2B" stroke-width="1.6"/>
<path d="M763 0L583 0L583 1147C540 1106 483 1064 413 1023C343 982 280 951 223 930L223 1104C324 1151 412 1209 487 1276C562 1343 615 1409 646 1472L763 1472Z" transform="translate(22.47 606.16) scale(0.007007 -0.007007)" fill="#4D4D4D"/><text x="30.45" y="606.16" class="ax">.00</text>
<line x1="54.15" x2="59.0" y1="523.36" y2="523.36" stroke="#2B2B2B" stroke-width="1.6"/>
<path d="M763 0L583 0L583 1147C540 1106 483 1064 413 1023C343 982 280 951 223 930L223 1104C324 1151 412 1209 487 1276C562 1343 615 1409 646 1472L763 1472Z" transform="translate(22.47 528.31) scale(0.007007 -0.007007)" fill="#4D4D4D"/><text x="30.45" y="528.31" class="ax">.25</text>
<line x1="86.90" x2="86.90" y1="873.4" y2="877.70" stroke="#2B2B2B" stroke-width="1.6"/>
<text x="80.52" y="891.90" class="ax">-9</text>
<line x1="118.44" x2="118.44" y1="873.4" y2="877.70" stroke="#2B2B2B" stroke-width="1.6"/>
<text x="112.06" y="891.90" class="ax">-8</text>
<line x1="149.98" x2="149.98" y1="873.4" y2="877.70" stroke="#2B2B2B" stroke-width="1.6"/>
<text x="143.60" y="891.90" class="ax">-7</text>
<line x1="181.52" x2="181.52" y1="873.4" y2="877.70" stroke="#2B2B2B" stroke-width="1.6"/>
<text x="175.14" y="891.90" class="ax">-6</text>
<line x1="213.06" x2="213.06" y1="873.4" y2="877.70" stroke="#2B2B2B" stroke-width="1.6"/>
<text x="206.68" y="891.90" class="ax">-5</text>
<line x1="244.60" x2="244.60" y1="873.4" y2="877.70" stroke="#2B2B2B" stroke-width="1.6"/>
<text x="238.22" y="891.90" class="ax">-4</text>
<line x1="276.14" x2="276.14" y1="873.4" y2="877.70" stroke="#2B2B2B" stroke-width="1.6"/>
<text x="269.76" y="891.90" class="ax">-3</text>
<line x1="307.68" x2="307.68" y1="873.4" y2="877.70" stroke="#2B2B2B" stroke-width="1.6"/>
<text x="301.30" y="891.90" class="ax">-2</text>
<line x1="339.22" x2="339.22" y1="873.4" y2="877.70" stroke="#2B2B2B" stroke-width="1.6"/>
<text x="332.84" y="891.90" class="ax">-</text><path d="M763 0L583 0L583 1147C540 1106 483 1064 413 1023C343 982 280 951 223 930L223 1104C324 1151 412 1209 487 1276C562 1343 615 1409 646 1472L763 1472Z" transform="translate(337.62 891.90) scale(0.007007 -0.007007)" fill="#4D4D4D"/>
<line x1="370.76" x2="370.76" y1="873.4" y2="877.70" stroke="#2B2B2B" stroke-width="1.6"/>
<text x="366.77" y="891.90" class="ax">0</text>
<line x1="402.30" x2="402.30" y1="873.4" y2="877.70" stroke="#2B2B2B" stroke-width="1.6"/>
<path d="M763 0L583 0L583 1147C540 1106 483 1064 413 1023C343 982 280 951 223 930L223 1104C324 1151 412 1209 487 1276C562 1343 615 1409 646 1472L763 1472Z" transform="translate(398.31 891.90) scale(0.007007 -0.007007)" fill="#4D4D4D"/>
<line x1="433.84" x2="433.84" y1="873.4" y2="877.70" stroke="#2B2B2B" stroke-width="1.6"/>
<text x="429.85" y="891.90" class="ax">2</text>
<line x1="465.38" x2="465.38" y1="873.4" y2="877.70" stroke="#2B2B2B" stroke-width="1.6"/>
<text x="461.39" y="891.90" class="ax">3</text>
<line x1="496.92" x2="496.92" y1="873.4" y2="877.70" stroke="#2B2B2B" stroke-width="1.6"/>
<text x="492.93" y="891.90" class="ax">4</text>
<line x1="528.46" x2="528.46" y1="873.4" y2="877.70" stroke="#2B2B2B" stroke-width="1.6"/>
<text x="524.47" y="891.90" class="ax">5</text>
<line x1="560.00" x2="560.00" y1="873.4" y2="877.70" stroke="#2B2B2B" stroke-width="1.6"/>
<text x="556.01" y="891.90" class="ax">6</text>
<line x1="591.54" x2="591.54" y1="873.4" y2="877.70" stroke="#2B2B2B" stroke-width="1.6"/>
<text x="587.55" y="891.90" class="ax">7</text>
<line x1="623.08" x2="623.08" y1="873.4" y2="877.70" stroke="#2B2B2B" stroke-width="1.6"/>
<text x="619.09" y="891.90" class="ax">8</text>
<line x1="654.62" x2="654.62" y1="873.4" y2="877.70" stroke="#2B2B2B" stroke-width="1.6"/>
<text x="650.63" y="891.90" class="ax">9</text>
<text x="370.85" y="911.90" text-anchor="middle" class="at">Months Since Infection</text>
<text transform="translate(13.9 684.85) rotate(-90)" x="0" y="0" text-anchor="middle" class="at" style="font-size:17.75px">HealthCare Utilization</text>
<text x="58.3" y="483.00" class="tt">b) UPMC</text>
</svg>
</body></html>
